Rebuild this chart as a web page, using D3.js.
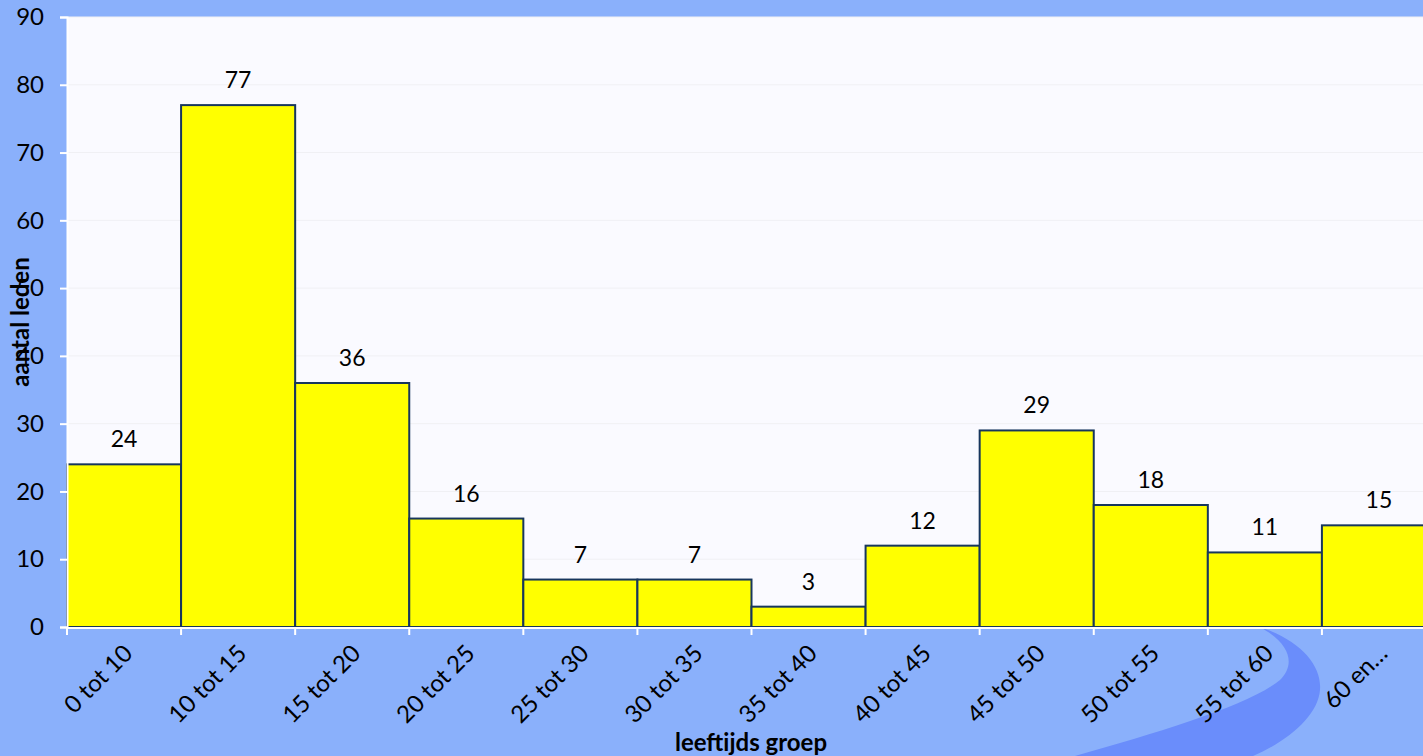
<!DOCTYPE html>
<html>
<head>
<meta charset="utf-8">
<script src="https://cdn.jsdelivr.net/npm/d3@7"></script>
<style>
  body { margin: 0; background: #8ab0fb; overflow: hidden; }
  svg { display: block; font-family: Lato, "Open Sans", sans-serif; }
</style>
</head>
<body>
<svg></svg>
<script>
// age groups and member counts
const groups = ["0 tot 10", "10 tot 15", "15 tot 20", "20 tot 25", "25 tot 30", "30 tot 35",
  "35 tot 40", "40 tot 45", "45 tot 50", "50 tot 55", "55 tot 60", "60 en…"];
const counts = [24, 77, 36, 16, 7, 7, 3, 12, 29, 18, 11, 15];
const yTicks = [0, 10, 20, 30, 40, 50, 60, 70, 80, 90];

const width = 1423;
const height = 756;
const plotLeft = 67;
const plotTop = 17;
const plotBottom = 627;
const plotRight = 1436; // plot runs past the window edge

const svg = d3.select("svg").attr("width", width).attr("height", height);

// background swoosh in the lower right
svg.append("path")
  .attr("d", "M1260,627 C1300,640 1322,665 1320,690 C1318,715 1290,740 1253,756 L1075,756 " +
    "C1160,732 1250,705 1280,680 C1295,665 1292,645 1260,627 Z")
  .attr("fill", "#6a8dfb");

const x = d3.scaleBand().domain(groups).range([plotLeft, plotRight]).padding(0);
const y = d3.scaleLinear().domain([0, 90]).range([plotBottom, plotTop]);

// plot area
svg.append("rect")
  .attr("x", plotLeft).attr("y", plotTop)
  .attr("width", plotRight - plotLeft).attr("height", plotBottom - plotTop)
  .attr("fill", "#fafaff");

// faint gridlines
svg.append("g")
  .selectAll("line")
  .data(yTicks.slice(1))
  .enter()
  .append("line")
  .attr("x1", plotLeft).attr("x2", plotRight)
  .attr("y1", (d) => y(d)).attr("y2", (d) => y(d))
  .attr("stroke", "#f0f0f4");

// bars
svg.append("g")
  .selectAll("rect")
  .data(counts)
  .enter()
  .append("rect")
  .attr("x", (d, i) => x(groups[i]))
  .attr("y", (d) => y(d))
  .attr("width", x.bandwidth())
  .attr("height", (d) => plotBottom - y(d))
  .attr("fill", "#ffff00")
  .attr("stroke", "#17365d")
  .attr("stroke-width", 2);

// value labels
svg.append("g")
  .selectAll("text")
  .data(counts)
  .enter()
  .append("text")
  .attr("x", (d, i) => x(groups[i]) + x.bandwidth() / 2)
  .attr("y", (d) => y(d) - 17)
  .attr("text-anchor", "middle")
  .attr("font-size", 23)
  .attr("fill", "#000")
  .text((d) => d);

// y axis
const yAxis = svg.append("g")
  .attr("transform", "translate(" + plotLeft + ",0)")
  .call(d3.axisLeft(y).tickValues(yTicks).tickSize(7).tickPadding(16));
yAxis.select(".domain").attr("stroke", "#ffffff").attr("stroke-width", 2);
yAxis.selectAll(".tick line").attr("stroke", "#ffffff").attr("stroke-width", 2);
yAxis.selectAll(".tick text").attr("font-size", 24).attr("fill", "#000")
  .attr("font-family", "Lato, 'Open Sans', sans-serif");

// x axis: ticks at the band edges
const edges = groups.map((g) => x(g));
const xAxis = svg.append("g");
xAxis.append("line")
  .attr("x1", plotLeft).attr("x2", plotRight)
  .attr("y1", plotBottom + 1).attr("y2", plotBottom + 1)
  .attr("stroke", "#ffffff").attr("stroke-width", 2);
xAxis.selectAll(".xt")
  .data(edges)
  .enter()
  .append("line")
  .attr("class", "xt")
  .attr("x1", (d) => d).attr("x2", (d) => d)
  .attr("y1", plotBottom).attr("y2", plotBottom + 8)
  .attr("stroke", "#ffffff").attr("stroke-width", 2);
xAxis.selectAll("text")
  .data(groups)
  .enter()
  .append("text")
  .attr("transform", (d) => "translate(" + (x(d) + x.bandwidth() / 2 + 4) + "," + (plotBottom + 22) + ") rotate(-45)")
  .attr("text-anchor", "end")
  .attr("dy", "0.35em")
  .attr("font-size", 24)
  .attr("fill", "#000")
  .text((d) => d);

// axis titles
svg.append("text")
  .attr("x", 751).attr("y", 751)
  .attr("text-anchor", "middle")
  .attr("font-size", 24)
  .attr("font-weight", "bold")
  .text("leeftijds groep");

svg.append("text")
  .attr("transform", "translate(29,322) rotate(-90)")
  .attr("text-anchor", "middle")
  .attr("font-size", 24)
  .attr("font-weight", "bold")
  .text("aantal leden");
</script>
</body>
</html>
